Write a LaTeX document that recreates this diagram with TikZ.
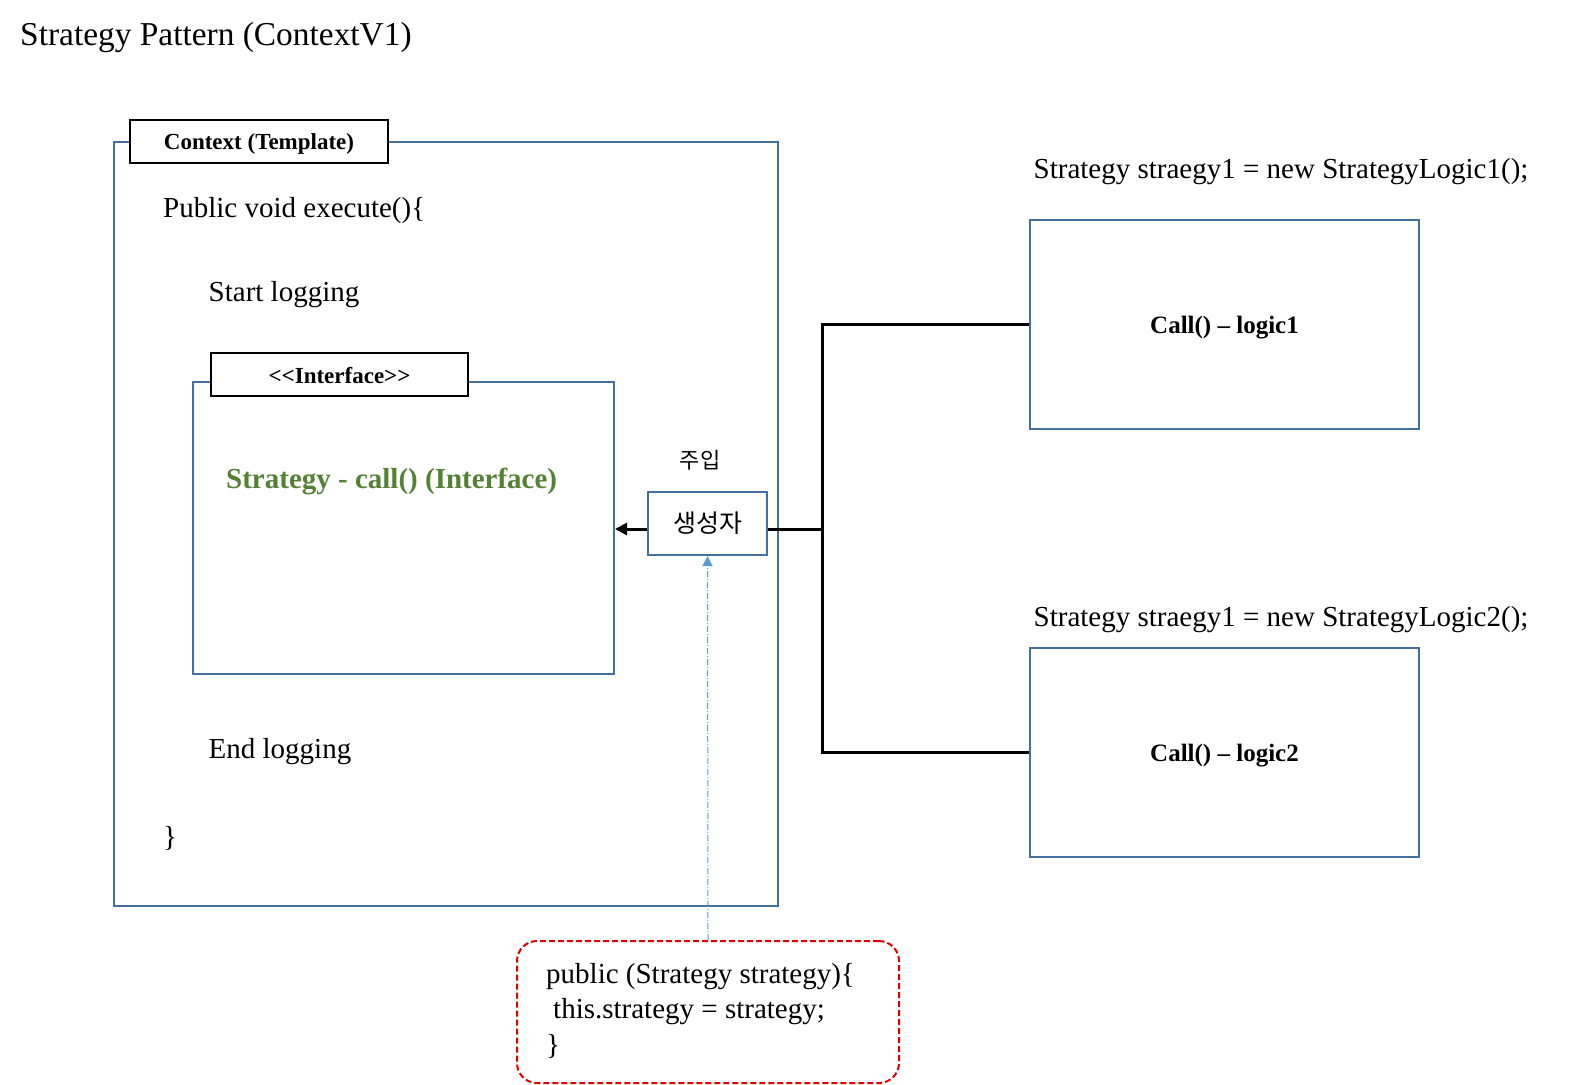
\documentclass[tikz,border=0pt]{standalone}
\usepackage{fontspec}
\setmainfont{Liberation Serif}
\newfontfamily\kofont{Noto Sans CJK KR}
\usetikzlibrary{arrows.meta,calc}
\definecolor{boxblue}{RGB}{65,113,156}
\definecolor{stgreen}{RGB}{84,130,53}
\definecolor{injblue}{RGB}{91,155,213}
\definecolor{dashred}{RGB}{222,0,0}
\begin{document}
\begin{tikzpicture}[x=1pt,y=-1pt,
  bluebox/.style={draw=boxblue,line width=2pt,inner sep=0pt},
  labelbox/.style={draw=black,line width=2.2pt,fill=white,inner sep=0pt,font=\fontsize{23}{27}\selectfont\bfseries},
  txt/.style={anchor=base west,inner sep=0pt,font=\fontsize{29}{34}\selectfont},
  conn/.style={draw=black,line width=3pt},
]
\useasboundingbox (0,0) rectangle (1595,1084);
% title
\node[anchor=base west,inner sep=0pt,font=\fontsize{33.4}{38}\selectfont] (title) at (20,45) {Strategy Pattern (ContextV1)};
% context box
\node[bluebox,minimum width=664pt,minimum height=764pt] (ctx) at (446,524) {};
\node[labelbox,minimum width=258pt,minimum height=43pt] (ctxlbl) at (259,141.5) {\raisebox{-8.4pt}[0pt][0pt]{Context (Template)}};
\node[txt] (exec) at (163,217) {Public void execute()\{};
\node[txt] (start) at (208.5,301) {Start logging};
\node[txt] (endl) at (208.5,758) {End logging};
\node[txt] (close) at (163,846) {\}};
% interface box
\node[bluebox,minimum width=421pt,minimum height=292pt] (iface) at (403.5,528) {};
\node[labelbox,minimum width=257pt,minimum height=43pt] (ifacelbl) at (339.5,374.5) {\raisebox{-9pt}[0pt][0pt]{{<}{<}Interface{>}{>}}};
\node[txt,font=\fontsize{29}{34}\selectfont\bfseries,text=stgreen] (strat) at (226,488) {Strategy - call() (Interface)};
% injection
\node[inner sep=0pt,font=\kofont\fontsize{22}{26}\selectfont] (inj) at (700,460) {주입};
\node[bluebox,minimum width=119pt,minimum height=63pt,font=\kofont\fontsize{25}{29}\selectfont] (gen) at (707.5,523.5) {생성자};
% logic boxes
\node[txt] (s1) at (1033.5,178) {Strategy straegy1 = new StrategyLogic1();};
\node[bluebox,minimum width=389pt,minimum height=209pt,font=\fontsize{25}{29}\selectfont\bfseries] (logic1) at (1224.5,324.5) {\raisebox{-9pt}[0pt][0pt]{Call() – logic1}};
\node[txt] (s2) at (1033.5,626) {Strategy straegy1 = new StrategyLogic2();};
\node[bluebox,minimum width=389pt,minimum height=209pt,font=\fontsize{25}{29}\selectfont\bfseries] (logic2) at (1224.5,752.5) {\raisebox{-9pt}[0pt][0pt]{Call() – logic2}};
% red constructor box
\node[draw=dashred,line width=2pt,dash pattern=on 6pt off 3pt,rounded corners=20pt,minimum width=382pt,minimum height=142pt,inner sep=0pt] (ctor) at (708,1012) {};
\node[txt] (c1) at (546,983) {public (Strategy strategy)\{};
\node[txt] (c2) at (553,1018) {this.strategy = strategy;};
\node[txt] (c3) at (546,1054) {\}};
% connectors
\coordinate (J) at (822,529);
\draw[conn] (logic1.west) -| (J) |- (logic2.west);
\draw[conn] (J) -- (gen.east |- J);
\draw[conn,-{Triangle[length=12pt,width=12pt]}] (gen.west |- J) -- (iface.east |- J);
\draw[injblue,line width=1pt,dash pattern=on 6pt off 2pt on 1pt off 2pt,-{Triangle[length=10pt,width=10pt]}] (ctor.north) -- (gen.south);
\end{tikzpicture}
\end{document}
